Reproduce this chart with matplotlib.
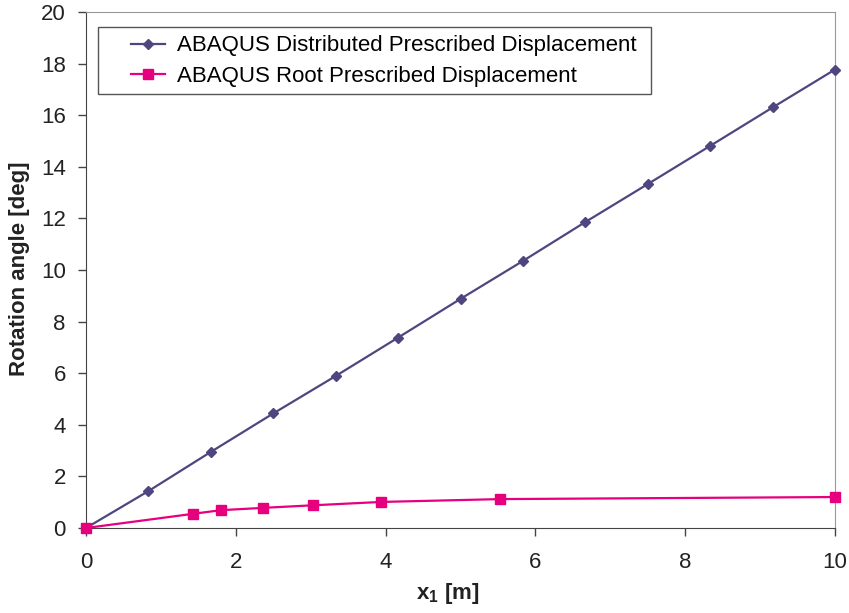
import matplotlib
matplotlib.use("Agg")
import matplotlib.pyplot as plt
from matplotlib.patches import Rectangle

plt.rcParams['font.family'] = ['Liberation Sans', 'DejaVu Sans']
plt.rcParams['mathtext.fontset'] = 'custom'
plt.rcParams['mathtext.rm'] = 'Liberation Sans'
plt.rcParams['mathtext.bf'] = 'Liberation Sans:bold'

x_dist = [0, 0.833, 1.667, 2.5, 3.333, 4.167, 5.0, 5.833, 6.667, 7.5, 8.333, 9.167, 10.0]
y_dist = [0, 1.43, 2.95, 4.44, 5.89, 7.38, 8.88, 10.35, 11.86, 13.33, 14.81, 16.30, 17.77]
x_root = [0, 1.43, 1.80, 2.36, 3.03, 3.94, 5.53, 10.0]
y_root = [0, 0.55, 0.69, 0.78, 0.88, 1.01, 1.12, 1.20]

W, H = 849, 613
fig = plt.figure(figsize=(W / 100, H / 100), dpi=100)
L, R, T, B = 86, 835, 12, 528
ax = fig.add_axes([L / W, 1 - B / H, (R - L) / W, (B - T) / H])

ax.plot(x_dist, y_dist, color='#4F4680', marker='D', markersize=5.2, lw=1.6,
        label='ABAQUS Distributed Prescribed Displacement', clip_on=False, zorder=3)
ax.plot(x_root, y_root, color='#E6007E', marker='s', markersize=7, lw=1.6,
        label='ABAQUS Root Prescribed Displacement', clip_on=False, zorder=4)

ax.set_xlim(0, 10)
ax.set_ylim(0, 20)
ax.set_xticks(range(0, 11, 2))
ax.set_yticks(range(0, 21, 2))
for s in ['top', 'right']:
    ax.spines[s].set_color('#999999')
for s in ['left', 'bottom']:
    ax.spines[s].set_color('#444444')
ax.tick_params(direction='out', length=5.5, width=1, color='#444444', labelsize=16,
               labelcolor='#222222')
ax.tick_params(axis='x', pad=11.5)
ax.tick_params(axis='y', pad=9)

ax.set_xlabel(r'x$_\mathbf{1}$ [m]', fontsize=16, fontweight='bold', color='#222222')
ax.set_ylabel('Rotation angle [deg]', fontsize=16, fontweight='bold', color='#222222')
ax.xaxis.set_label_coords((448 - L) / (R - L), (B - 594) / (B - T))
ax.xaxis.label.set_va('center')
ax.yaxis.set_label_coords((20 - L) / (R - L), (B - 269) / (B - T))
ax.yaxis.label.set_va('center')

# legend frame (drawn separately) and entries
frame = Rectangle((98 / W, 1 - 94 / H), (651 - 98) / W, (94 - 27) / H,
                  transform=fig.transFigure, facecolor='white', edgecolor='#555555',
                  lw=1.0, zorder=5)
fig.add_artist(frame)
leg = fig.legend(loc='upper left', bbox_to_anchor=(127 / W, 1 - 31 / H), fontsize=16,
                 frameon=False, handlelength=1.5, handletextpad=0.55,
                 labelspacing=0.44, borderpad=0.2, borderaxespad=0)
leg.set_zorder(6)

fig.savefig('out.png', dpi=100)
